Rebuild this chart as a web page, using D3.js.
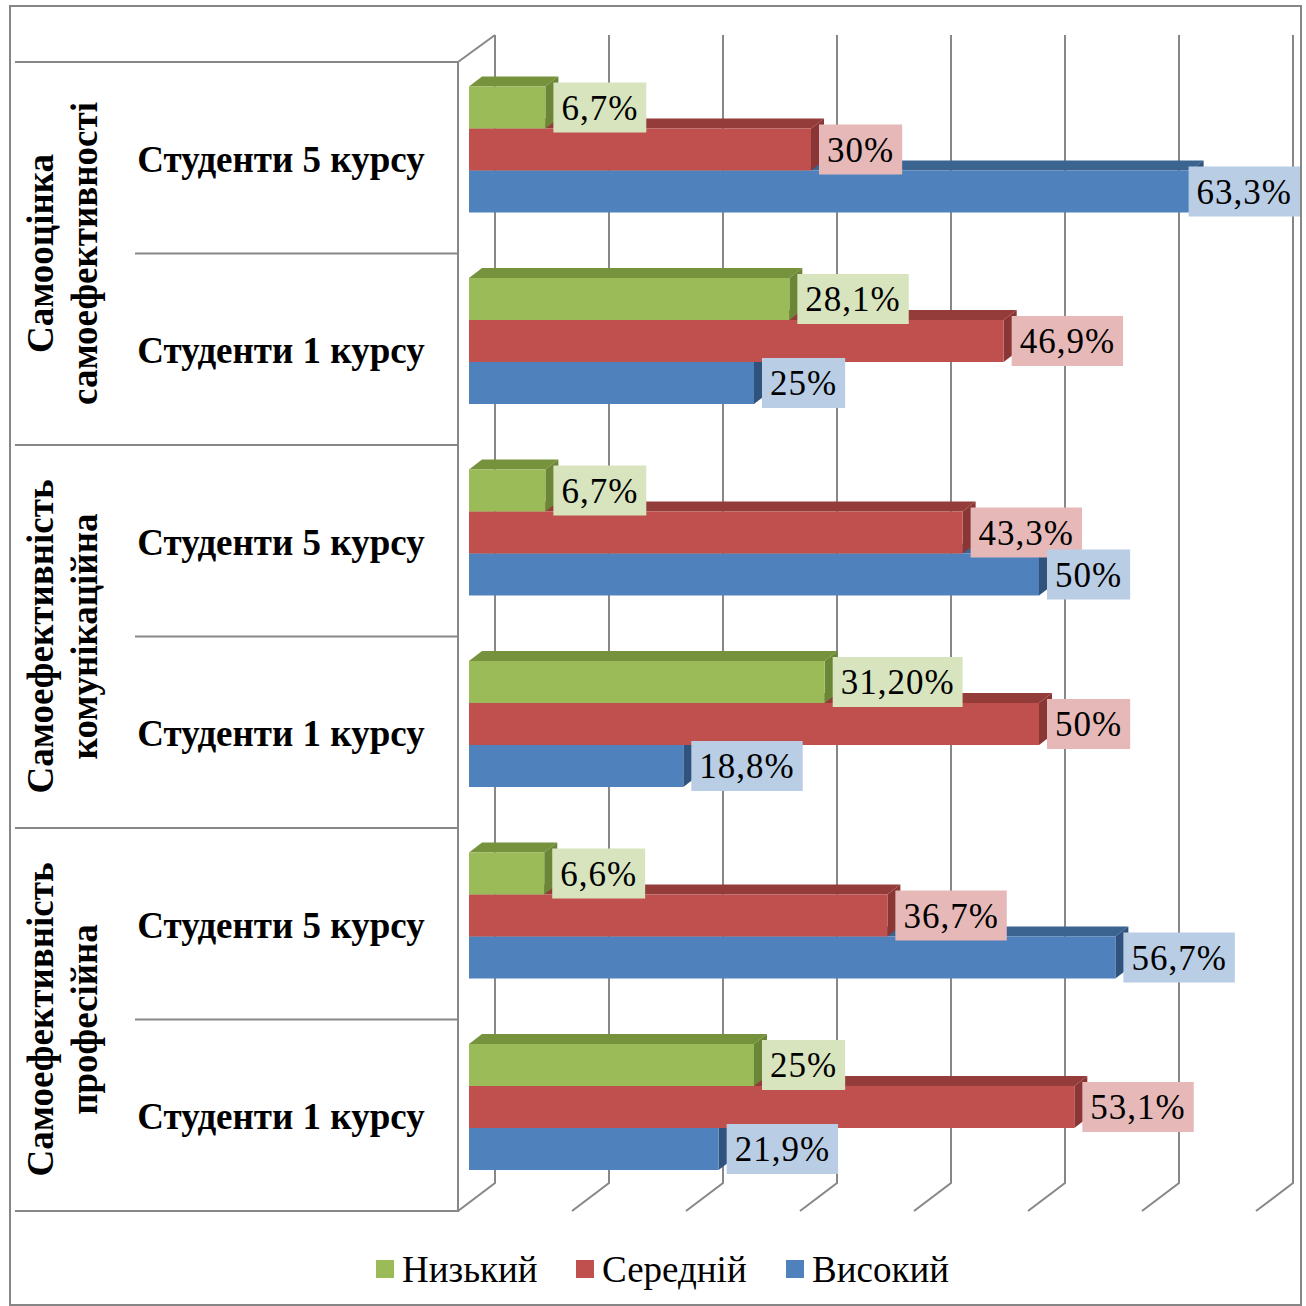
<!DOCTYPE html>
<html>
<head>
<meta charset="utf-8">
<script src="https://cdn.jsdelivr.net/npm/d3@7"></script>
<style>
  body { margin: 0; background: #fff; }
  svg { display: block; }
</style>
</head>
<body>
<script>
// groups (outer category level), each is written on two rotated lines
const groups = [
  ["Самооцінка", "самоефективності"],
  ["Самоефективність", "комунікаційна"],
  ["Самоефективність", "професійна"]
];
// inner category level, top to bottom
const categories = ["Студенти 5 курсу", "Студенти 1 курсу", "Студенти 5 курсу", "Студенти 1 курсу", "Студенти 5 курсу", "Студенти 1 курсу"];
const seriesNames = ["Низький", "Середній", "Високий"];

const low  = [6.7, 28.1, 6.7, 31.2, 6.6, 25];
const mid  = [30, 46.9, 43.3, 50, 36.7, 53.1];
const high = [63.3, 25, 50, 18.8, 56.7, 21.9];

const lowText  = ["6,7%", "28,1%", "6,7%", "31,20%", "6,6%", "25%"];
const midText  = ["30%", "46,9%", "43,3%", "50%", "36,7%", "53,1%"];
const highText = ["63,3%", "25%", "50%", "18,8%", "56,7%", "21,9%"];

const ticks = [0, 10, 20, 30, 40, 50, 60, 70];

const W = 1306, H = 1306;
const font = '"Liberation Serif"';
const colors = [
  {front: "#9bbb59", top: "#76923c", side: "#6a8636", box: "#d7e4bd"},
  {front: "#c0504d", top: "#943c3a", side: "#8a3634", box: "#e6b9b8"},
  {front: "#4f81bd", top: "#3c6491", side: "#30537d", box: "#b9cde5"}
];
const series = [
  {name: seriesNames[0], values: low, text: lowText, c: colors[0]},
  {name: seriesNames[1], values: mid, text: midText, c: colors[1]},
  {name: seriesNames[2], values: high, text: highText, c: colors[2]}
];

const svg = d3.select("body").append("svg")
    .attr("width", W)
    .attr("height", H);

// outer frame
svg.append("rect")
    .attr("x", 10).attr("y", 6)
    .attr("width", 1291).attr("height", 1299)
    .attr("fill", "#fff")
    .attr("stroke", "#868686")
    .attr("stroke-width", 2);

// 3d walls: back wall gridlines and floor
const wallX = d3.scaleLinear().domain([0, 70]).range([495, 1293]);
const barX = d3.scaleLinear().domain([0, 70]).range([469, 1267]);
const depthX = 37, depthY = 28;
const wallTop = 35, wallBottom = 1183;

const y = d3.scaleBand().domain(d3.range(categories.length)).range([62, 1211]);

const grid = svg.append("g")
    .attr("fill", "none")
    .attr("stroke", "#878787")
    .attr("stroke-width", 2);

grid.selectAll("path")
  .data(ticks)
  .join("path")
    .attr("d", t => `M${wallX(t)},${wallTop}V${wallBottom}L${wallX(t) - depthX},${wallBottom + depthY}`);

grid.append("path")
    .attr("d", `M${wallX(0) - depthX},${wallTop + depthY - 1}L${wallX(0)},${wallTop}M${wallX(0) - depthX},${wallTop + depthY - 1}V${wallBottom + depthY + 1}`);

// category axis lines
const catLines = d3.range(categories.length + 1);
grid.selectAll("line.cat")
  .data(catLines)
  .join("line")
    .attr("class", "cat")
    .attr("x1", i => i % 2 === 0 ? 15 : 135)
    .attr("x2", wallX(0) - depthX)
    .attr("y1", i => i < categories.length ? y(i) : y.range()[1])
    .attr("y2", i => i < categories.length ? y(i) : y.range()[1]);

// category labels
svg.append("g")
  .selectAll("text")
  .data(categories)
  .join("text")
    .style("font-family", font)
    .attr("x", 281)
    .attr("y", (d, i) => y(i) + y.bandwidth() / 2 + 1)
    .attr("dy", "0.35em")
    .attr("text-anchor", "middle")
    .attr("font-size", 37)
    .attr("font-weight", "bold")
    .text(d => d);

// group labels (rotated)
const gl = svg.append("g")
  .selectAll("g")
  .data(groups)
  .join("g")
    .attr("transform", (d, i) => `translate(0,${(y(i * 2) + y(i * 2 + 1) + y.bandwidth()) / 2})`);
gl.selectAll("text")
  .data(d => d)
  .join("text")
    .style("font-family", font)
    .attr("transform", (d, j) => `translate(${j === 0 ? 53 : 97},0) rotate(-90)`)
    .attr("text-anchor", "middle")
    .attr("font-size", 37)
    .attr("font-weight", "bold")
    .text(d => d);

// bars
const barH = 42, barOff = 24.5, dx = 13, dy = -10;
const bars = svg.append("g");
categories.forEach((cat, i) => {
  // draw bottom bar first so upper bars cover the top faces beneath them
  for (let s = series.length - 1; s >= 0; s--) {
    const sr = series[s];
    const x0 = barX(0), x1 = barX(sr.values[i]);
    const y0 = y(i) + barOff + s * barH, y1 = y0 + barH;
    const g = bars.append("g");
    g.append("path")
        .attr("fill", sr.c.top)
        .attr("d", `M${x0},${y0}L${x0 + dx},${y0 + dy}L${x1 + dx},${y0 + dy}L${x1},${y0}Z`);
    g.append("path")
        .attr("fill", sr.c.side)
        .attr("d", `M${x1},${y0}L${x1 + dx},${y0 + dy}L${x1 + dx},${y1 + dy}L${x1},${y1}Z`);
    g.append("rect")
        .attr("fill", sr.c.front)
        .attr("x", x0).attr("y", y0)
        .attr("width", x1 - x0).attr("height", barH);
  }
});

// data labels
const labels = svg.append("g");
categories.forEach((cat, i) => {
  series.forEach((sr, s) => {
    const x1 = barX(sr.values[i]);
    const cy = y(i) + barOff + s * barH + barH / 2;
    const g = labels.append("g");
    const box = g.append("rect").attr("fill", sr.c.box);
    const t = g.append("text")
        .style("font-family", font)
        .attr("font-size", 35)
        .attr("letter-spacing", 1)
        .attr("dy", "0.35em")
        .attr("text-anchor", "middle")
        .text(sr.text[i]);
    const tw = t.node().getComputedTextLength();
    const bw = tw + 16;
    let bx = x1 + 8;
    if (bx + bw > 1300) bx = 1300 - bw;
    box.attr("x", bx).attr("y", cy - 25).attr("width", bw).attr("height", 50);
    t.attr("x", bx + bw / 2).attr("y", cy);
  });
});

// legend
const legendX = [376, 576, 786];
const legend = svg.append("g")
  .selectAll("g")
  .data(series)
  .join("g")
    .attr("transform", (d, i) => `translate(${legendX[i]},1269)`);
legend.append("rect")
    .attr("x", 0).attr("y", -9)
    .attr("width", 18).attr("height", 18)
    .attr("fill", d => d.c.front);
legend.append("text")
    .style("font-family", font)
    .attr("x", 26)
    .attr("dy", "0.35em")
    .attr("font-size", 37)
    .text(d => d.name);
</script>
</body>
</html>
